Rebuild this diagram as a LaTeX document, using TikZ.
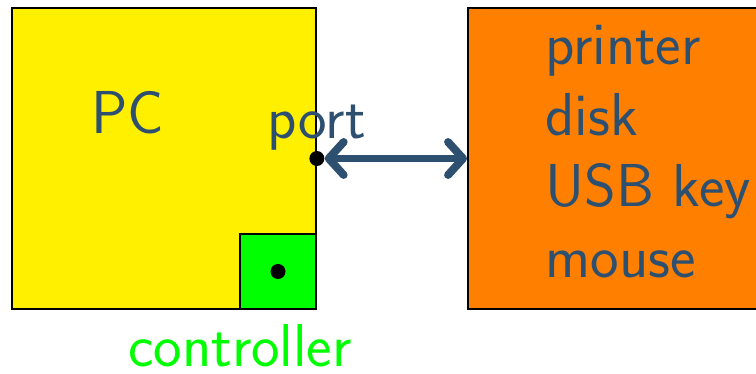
\documentclass[tikz,border=0pt]{standalone}
\usepackage{tikz}
\usetikzlibrary{arrows.meta}
\usetikzlibrary{positioning}
\usetikzlibrary{calc}
\definecolor{textblue}{RGB}{46,80,112}
\definecolor{pcyellow}{RGB}{255,240,0}
\definecolor{devorange}{RGB}{255,128,0}
\definecolor{ctrlgreen}{RGB}{0,255,0}
\tikzset{
	box/.style={draw=black, line width=1pt, rectangle, inner sep=0pt},
	pcbox/.style={box, fill=pcyellow, minimum width=6.08cm, minimum height=6.02cm},
	ctrlbox/.style={box, fill=ctrlgreen, minimum width=1.52cm, minimum height=1.50cm},
	devbox/.style={box, fill=devorange, minimum width=7cm, minimum height=6.02cm},
	dot/.style={circle, fill=black, inner sep=0pt, minimum size=0.30cm},
	txt/.style={text=textblue, font=\sffamily\fontsize{34.5}{40}\selectfont, inner sep=0pt},
	item/.style={txt, anchor=base west},
	link/.style={draw=textblue, line width=4.5pt, <->,
		>={Straight Barb[length=0.3cm,width=0.66cm,round]}},
}
\begin{document}
\begin{tikzpicture}
	\useasboundingbox (0,0) rectangle (15.12,7.48);
	% the computer and its controller
	\node[pcbox] (pc) at (3.28,4.31) {};
	\node[ctrlbox, anchor=south east] (ctrl) at (pc.south east) {};
	\node[dot] (ctrldot) at (ctrl.center) {};
	\node[dot] (portdot) at (pc.east) {};
	\node[txt] (pclabel) at (2.55,5.22) {PC};
	\node[txt, above=0pt of portdot] (portlabel) {port};
	\node[txt, text=ctrlgreen] (ctrllabel) at (4.80,0.56) {controller};
	% the devices
	\node[devbox, anchor=west] (dev) at (9.34,4.31) {};
	\node[item] (printer) at (10.90,6.18) {printer};
	\node[item] (disk) at ([yshift=-1.42cm]printer.base west) {disk};
	\node[item] (usbkey) at ([yshift=-1.42cm]disk.base west) {USB key};
	\node[item] (mouse) at ([yshift=-1.42cm]usbkey.base west) {mouse};
	\draw[link] (portdot) -- (dev.west |- portdot);
\end{tikzpicture}
\end{document}
